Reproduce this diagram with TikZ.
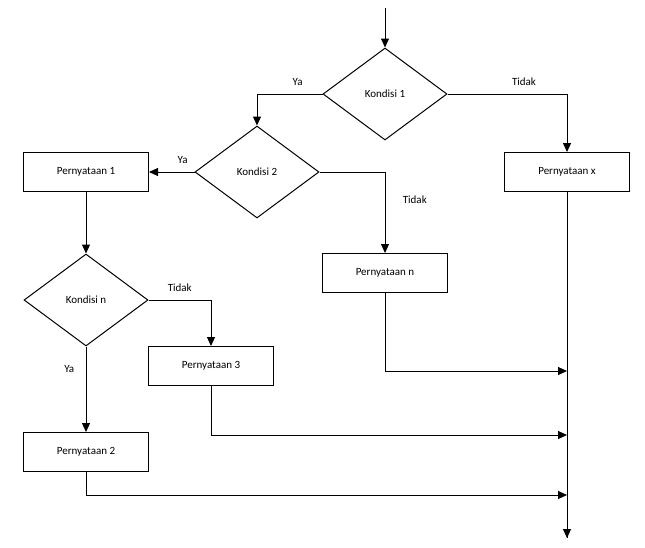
\documentclass[tikz,border=0pt]{standalone}
\usepackage{fontspec}
\setmainfont{Carlito}
\usepackage{tikz}
\usetikzlibrary{shapes.geometric,arrows.meta,positioning}

\begin{document}
\begin{tikzpicture}[x=1pt, y=-1pt,
    every node/.style={font=\fontsize{11}{13}\selectfont},
    stmt/.style={rectangle, draw=black, line width=1pt, minimum width=125pt, minimum height=39pt, inner sep=0pt},
    cond/.style={diamond, draw=black, line width=1pt, minimum width=124pt, minimum height=92pt, inner sep=0pt},
    flow/.style={-{Triangle[length=9pt, width=8pt]}, line width=1pt},
    link/.style={line width=1pt}
]
\useasboundingbox (0,0) rectangle (645,547);

% Conditions
\node[cond] (k1) at (385,94) {Kondisi 1};
\node[cond] (k2) at (257,172) {Kondisi 2};
\node[cond] (kn) at (86,300) {Kondisi n};

% Statements
\node[stmt] (px) at (567,172) {Pernyataan x};
\node[stmt] (p1) at (86,172) {Pernyataan 1};
\node[stmt] (pn) at (385,273) {Pernyataan n};
\node[stmt] (p3) at (211,366) {Pernyataan 3};
\node[stmt] (p2) at (86,452) {Pernyataan 2};

% Entry and exit
\coordinate (start) at (385,8);
\coordinate (stop) at (567,538);
\coordinate (m1) at (567,371);
\coordinate (m2) at (567,435);
\coordinate (m3) at (567,495);

\draw[flow] (start) -- (k1.north);
\draw[flow] (k1.west) -| node[pos=0.19, above=5pt] (ya1) {Ya} (k2.north);
\draw[flow] (k1.east) -| node[pos=0.32, above=5pt] (tidak1) {Tidak} (px.north);
\draw[flow] (k2.west) -- node[pos=0.26, above=5pt] (ya2) {Ya} (p1.east);
\draw[flow] (k2.east) -| node[pos=0.67, right=14pt] (tidak2) {Tidak} (pn.north);
\draw[flow] (p1.south) -- (kn.north);
\draw[flow] (kn.east) -| node[pos=0.25, above=5pt] (tidakn) {Tidak} (p3.north);
\draw[flow] (kn.south) -- node[pos=0.26, left=8pt] (yan) {Ya} (p2.north);

% Joining lines
\draw[link] (px.south) -- (stop);
\draw[flow] (stop |- 0,520) -- (stop);
\draw[flow] (pn.south) |- (m1);
\draw[flow] (p3.south) |- (m2);
\draw[flow] (p2.south) |- (m3);

\end{tikzpicture}
\end{document}
